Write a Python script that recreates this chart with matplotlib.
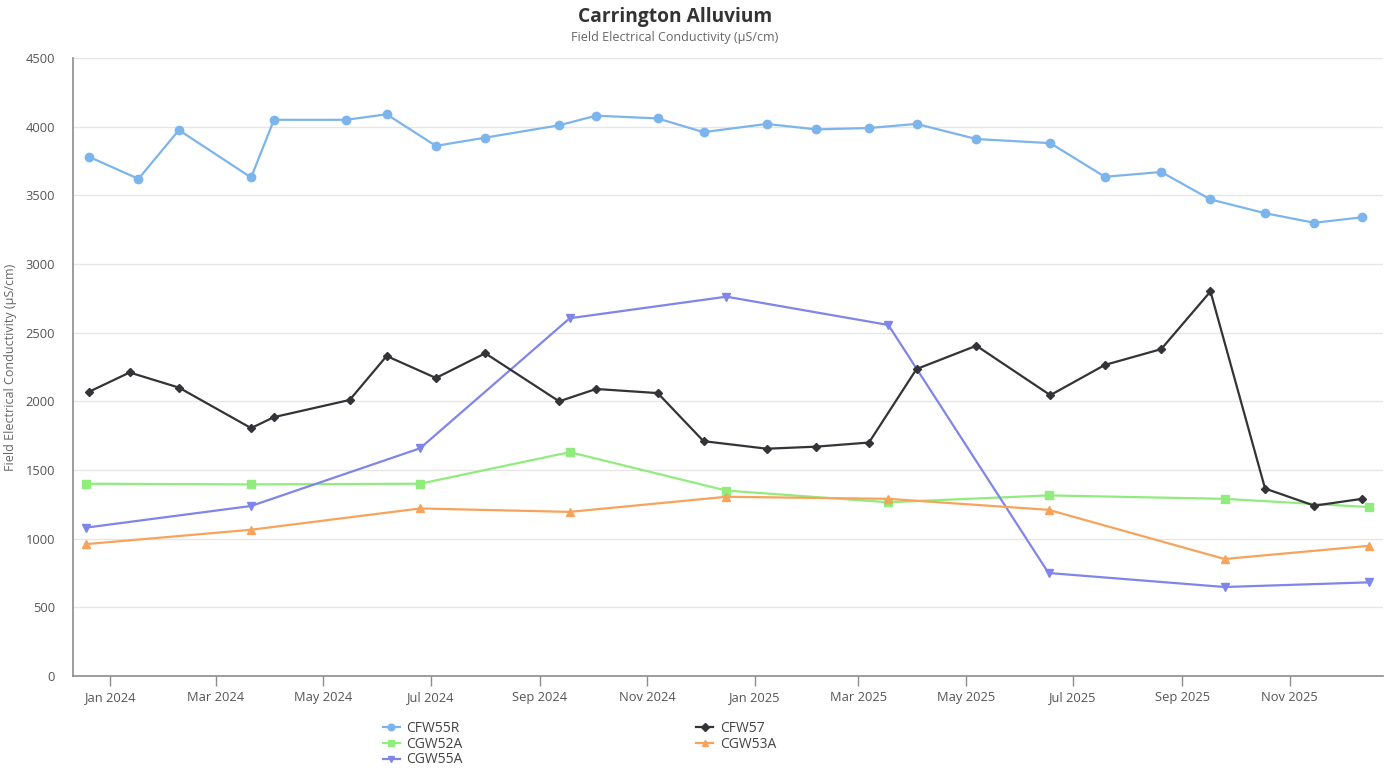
# ============================================================
# Carrington Alluvium - Field Electrical Conductivity
# ============================================================

import pandas as pd
import matplotlib
matplotlib.use("Agg")
import matplotlib.pyplot as plt
import matplotlib.dates as mdates

plt.rcParams["font.family"] = ["Open Sans", "DejaVu Sans"]

# ==========================
# Data
# ==========================

cfw55r_dates = [
    "2023-12-20", "2024-01-17", "2024-02-09", "2024-03-21", "2024-04-03",
    "2024-05-14", "2024-06-06", "2024-07-04", "2024-08-01", "2024-09-12",
    "2024-10-03", "2024-11-07", "2024-12-03", "2025-01-08", "2025-02-05",
    "2025-03-07", "2025-04-03", "2025-05-07", "2025-06-18", "2025-07-19",
    "2025-08-20", "2025-09-17", "2025-10-18", "2025-11-15", "2025-12-12",
]
cfw55r = [3780, 3620, 3975, 3630, 4050, 4050, 4090, 3860, 3920, 4010,
          4080, 4060, 3960, 4020, 3980, 3990, 4020, 3910, 3880, 3635,
          3670, 3470, 3370, 3300, 3340]

cfw57_dates = [
    "2023-12-20", "2024-01-12", "2024-02-09", "2024-03-21", "2024-04-03",
    "2024-05-16", "2024-06-06", "2024-07-04", "2024-08-01", "2024-09-12",
    "2024-10-03", "2024-11-07", "2024-12-03", "2025-01-08", "2025-02-05",
    "2025-03-07", "2025-04-03", "2025-05-07", "2025-06-18", "2025-07-19",
    "2025-08-20", "2025-09-17", "2025-10-18", "2025-11-15", "2025-12-12",
]
cfw57 = [2070, 2210, 2100, 1805, 1885, 2010, 2330, 2170, 2350, 2000,
         2090, 2060, 1710, 1655, 1670, 1700, 2235, 2405, 2045, 2265,
         2380, 2800, 1365, 1240, 1290]

quarterly_dates = [
    "2023-12-18", "2024-03-21", "2024-06-25", "2024-09-18", "2024-12-16",
    "2025-03-18", "2025-06-17", "2025-09-25", "2025-12-16",
]
cgw52a = [1400, 1395, 1400, 1630, 1350, 1265, 1315, 1290, 1230]
cgw53a = [960, 1065, 1220, 1195, 1305, 1290, 1210, 852, 948]
cgw55a = [1080, 1238, 1658, 2605, 2762, 2556, 750, 648, 682]

y_ticks = [0, 500, 1000, 1500, 2000, 2500, 3000, 3500, 4000, 4500]

# ============================================================
# Figure
# ============================================================

fig = plt.figure(figsize=(13.91, 7.71), dpi=100)
ax = fig.add_axes([73.3 / 1391, 1 - 676 / 771, (1383 - 73.3) / 1391, (676 - 58) / 771])

series = [
    ("CFW55R", cfw55r_dates, cfw55r, "#7cb5ec", "o", 6),
    ("CGW52A", quarterly_dates, cgw52a, "#90ed7d", "s", 5.5),
    ("CGW55A", quarterly_dates, cgw55a, "#8085e9", "v", 6),
    ("CFW57", cfw57_dates, cfw57, "#333338", "D", 4.5),
    ("CGW53A", quarterly_dates, cgw53a, "#f7a35c", "^", 6),
]

for name, dates, values, color, marker, ms in series:
    ax.plot(
        pd.to_datetime(dates),
        values,
        color=color,
        marker=marker,
        markersize=ms,
        linewidth=1.6,
        label=name,
        zorder=3
    )

# ============================================================
# Axes styling
# ============================================================

ax.set_ylim(0, 4500)
ax.set_yticks(y_ticks)
ax.set_xlim(pd.Timestamp("2023-12-11"), pd.Timestamp("2025-12-24"))

ax.xaxis.set_major_locator(mdates.MonthLocator(bymonth=[1, 3, 5, 7, 9, 11]))
ax.xaxis.set_major_formatter(mdates.DateFormatter("%b %Y"))

ax.grid(axis="y", color="#e6e6e6", linewidth=1)
ax.set_axisbelow(True)

for side in ["top", "right"]:
    ax.spines[side].set_visible(False)
for side in ["left", "bottom"]:
    ax.spines[side].set_color("#8c8c8c")
    ax.spines[side].set_linewidth(1.2)

ax.tick_params(axis="y", length=0, pad=13, labelsize=9.3, labelcolor="#555555")
ax.tick_params(axis="x", length=7, width=1, color="#8c8c8c", pad=4,
               labelsize=9.3, labelcolor="#555555")

ax.set_ylabel("Field Electrical Conductivity (µS/cm)", fontsize=9,
              color="#666666", labelpad=6)

fig.text(675 / 1391, 1 - 17 / 771, "Carrington Alluvium", ha="center",
         va="center", fontsize=13.8, fontweight="bold", color="#333333")
fig.text(675 / 1391, 1 - 38 / 771, "Field Electrical Conductivity (µS/cm)",
         ha="center", va="center", fontsize=9, color="#666666")

fig.legend(
    loc="upper left",
    bbox_to_anchor=(383 / 1391, 1 - 721 / 771),
    ncol=2,
    frameon=False,
    fontsize=10,
    labelcolor="#444444",
    handlelength=1.2,
    handletextpad=0.5,
    columnspacing=16.8,
    labelspacing=0.05,
    borderpad=0,
    borderaxespad=0,
    markerscale=0.8
)

plt.savefig("out.png", dpi=100)
